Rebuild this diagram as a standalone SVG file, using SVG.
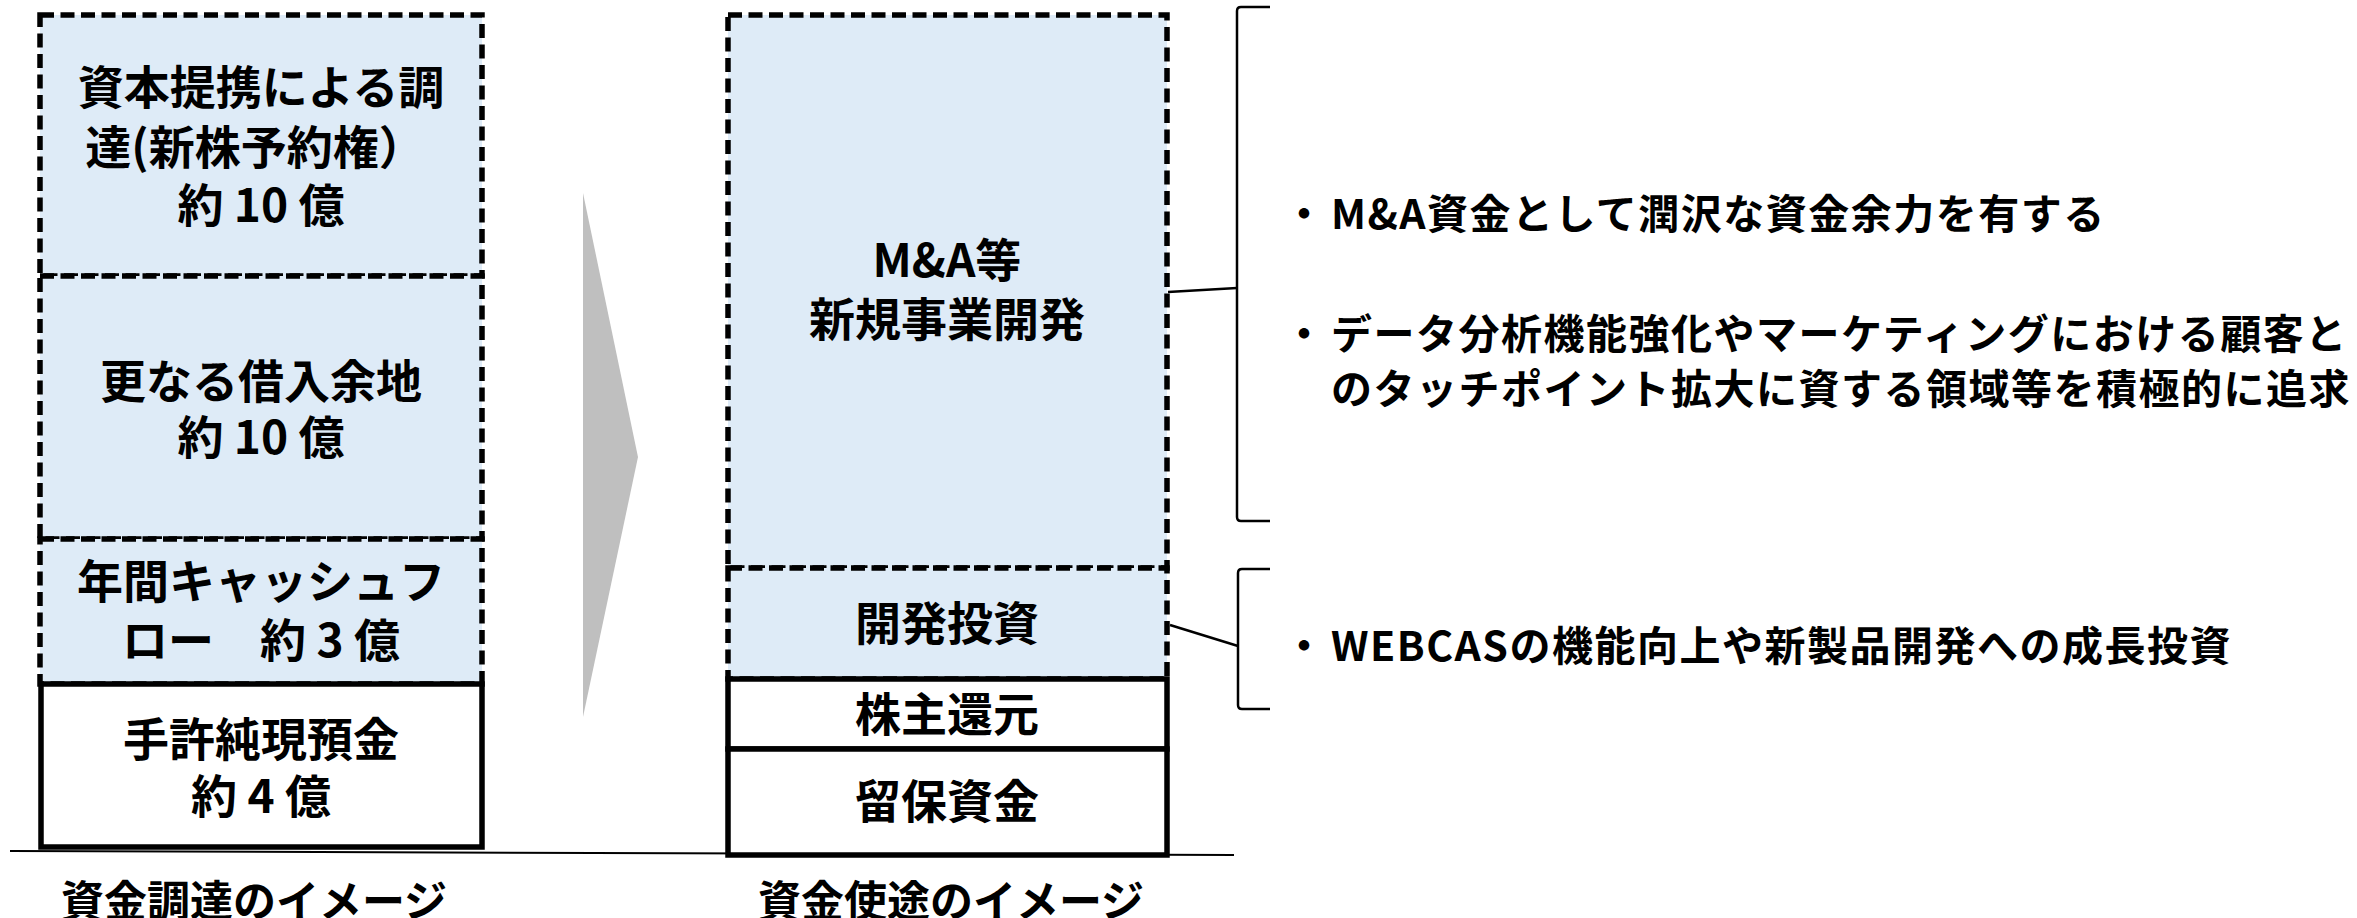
<svg xmlns="http://www.w3.org/2000/svg" width="2357" height="918" viewBox="0 0 2357 918">
<style>
.dash{fill:#DEEBF7;stroke:#000;stroke-width:5.5;stroke-dasharray:14 6.5}
.solid{fill:#fff;stroke:#000;stroke-width:5.5}
.t{font-family:"Noto Sans CJK JP","Noto Sans",sans-serif;font-weight:bold;font-size:46px;fill:#000;text-anchor:middle}
.cap{font-family:"Noto Sans CJK JP","Noto Sans",sans-serif;font-weight:bold;font-size:43px;fill:#000;text-anchor:middle}
.b{font-family:"Noto Sans CJK JP","Noto Sans",sans-serif;font-weight:bold;font-size:41px;letter-spacing:1.5px;fill:#000}
.bul{font-family:"Noto Sans CJK JP","Noto Sans",sans-serif;font-weight:bold;font-size:41px;fill:#000;text-anchor:middle}
.ln{fill:none;stroke:#000;stroke-width:2.5}
</style>
<rect width="2357" height="918" fill="#fff"/>
<g id="baseline">
<line x1="10" y1="851" x2="1234" y2="855" stroke="#000" stroke-width="2"/>
</g>
<g id="arrow">
<polygon points="583,193 638,457 583,717" fill="#BFBFBF"/>
</g>
<g id="left-capital-alliance">
<rect class="dash" x="40" y="15" width="442" height="261"/>
<text class="t" x="261" y="104">資本提携による調</text>
<text class="t" x="255" y="164">達(新株予約権）</text>
<text class="t" x="261" y="222">約 10 億</text>
</g>
<g id="left-borrowing">
<rect class="dash" x="40" y="276" width="442" height="263"/>
<text class="t" x="261" y="398">更なる借入余地</text>
<text class="t" x="261" y="454">約 10 億</text>
</g>
<g id="left-cashflow">
<rect class="dash" x="40" y="539" width="442" height="145"/>
<text class="t" x="261" y="598">年間キャッシュフ</text>
<text class="t" x="261" y="657">ロー　約 3 億</text>
</g>
<g id="left-cash">
<rect class="solid" x="41" y="684" width="441" height="163"/>
<text class="t" x="261" y="756">手許純現預金</text>
<text class="t" x="261" y="813">約 4 億</text>
</g>
<g id="right-ma">
<rect class="dash" x="728" y="15" width="439" height="553"/>
<text class="t" x="947" y="277">M&amp;A等</text>
<text class="t" x="947" y="336">新規事業開発</text>
</g>
<g id="right-dev">
<rect class="dash" x="728" y="568" width="439" height="111"/>
<text class="t" x="947" y="640">開発投資</text>
</g>
<g id="right-return">
<rect class="solid" x="728" y="679" width="439" height="70"/>
<text class="t" x="947" y="731">株主還元</text>
</g>
<g id="right-retained">
<rect class="solid" x="728" y="749" width="439" height="106"/>
<text class="t" x="947" y="818">留保資金</text>
</g>
<g id="connectors">
<line class="ln" x1="1168" y1="292" x2="1237" y2="288"/>
<line class="ln" x1="1170" y1="625" x2="1238" y2="646"/>
<path class="ln" d="M1270,7 L1241,7 Q1237,7 1237,11 L1237,517 Q1237,521 1241,521 L1270,521"/>
<path class="ln" d="M1270,569 L1242,569 Q1238,569 1238,573 L1238,705 Q1238,709 1242,709 L1270,709"/>
</g>
<g id="note-ma">
<text class="bul" x="1304" y="229">・</text>
<text class="b" x="1331" y="229">M&amp;A資金として潤沢な資金余力を有する</text>
<text class="bul" x="1304" y="349">・</text>
<text class="b" x="1331" y="349">データ分析機能強化やマーケティングにおける顧客と</text>
<text class="b" x="1331" y="404">のタッチポイント拡大に資する領域等を積極的に追求</text>
</g>
<g id="note-dev">
<text class="bul" x="1304" y="661">・</text>
<text class="b" x="1331" y="661">WEBCASの機能向上や新製品開発への成長投資</text>
</g>
<g id="captions">
<text class="cap" x="254" y="917">資金調達のイメージ</text>
<text class="cap" x="951" y="917">資金使途のイメージ</text>
</g>
</svg>
